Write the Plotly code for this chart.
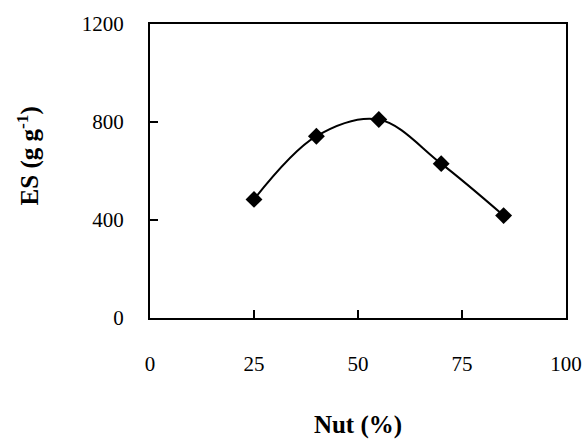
import plotly.graph_objects as go

nut = [25, 40, 55, 70, 85]
es = [484, 742, 810, 630, 418]
x_ticks = [0, 25, 50, 75, 100]
y_ticks = [0, 400, 800, 1200]
x_title = "<b>Nut (%)</b>"
y_title = "<b>ES (g g<sup>-1</sup>)</b>"

fig = go.Figure()
fig.add_trace(go.Scatter(
    x=nut, y=es, mode="lines+markers",
    line=dict(color="black", width=2, shape="spline", smoothing=1),
    marker=dict(symbol="diamond", size=13, color="black"),
    showlegend=False,
))

font_family = "Liberation Serif"
fig.update_layout(
    width=587, height=439,
    margin=dict(l=150, r=21, t=24, b=121),
    paper_bgcolor="white", plot_bgcolor="white",
    font=dict(family=font_family, size=21, color="black"),
)
fig.update_xaxes(
    range=[0, 100], tickvals=x_ticks, ticktext=[str(v) for v in x_ticks],
    showgrid=False, zeroline=False, automargin=False,
    showline=True, linecolor="black", linewidth=2, mirror=True,
    ticks="inside", ticklen=8, tickwidth=2, tickcolor="black",
    ticklabelstandoff=26,
    title=dict(text=x_title, font=dict(family=font_family, size=25), standoff=40),
)
fig.update_yaxes(
    range=[0, 1200], tickvals=y_ticks, ticktext=[str(v) for v in y_ticks],
    showgrid=False, zeroline=False, automargin=False,
    showline=True, linecolor="black", linewidth=2, mirror=True,
    ticks="inside", ticklen=8, tickwidth=2, tickcolor="black",
    ticklabelstandoff=20,
)
fig.add_annotation(
    text=y_title, xref="paper", yref="paper", x=-0.293, y=0.55,
    xanchor="center", yanchor="middle", textangle=-90, showarrow=False,
    font=dict(family=font_family, size=25, color="black"),
)
fig.write_html("out.html")
